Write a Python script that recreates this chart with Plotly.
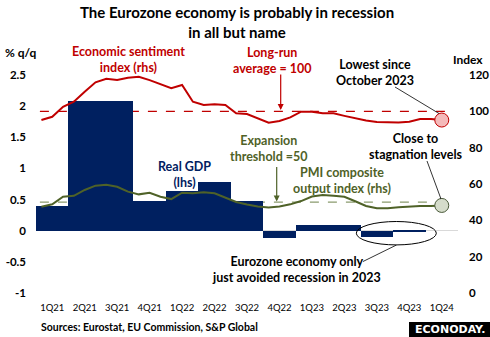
import numpy as np
import plotly.graph_objects as go

# ---------------- data ----------------
quarters = ["1Q21", "2Q21", "3Q21", "4Q21", "1Q22", "2Q22", "3Q22", "4Q22",
            "1Q23", "2Q23", "3Q23", "4Q23", "1Q24"]
gdp = [0.39, 2.08, 2.08, 0.48, 0.64, 0.79, 0.48, -0.11, 0.09, 0.09, -0.10, -0.02]

# monthly, Jan 2021 .. Feb 2024
esi = [95.2, 97.0, 102.5, 105.3, 110.8, 116.0, 117.9, 117.2, 118.5, 119.0, 117.2, 115.0,
       112.7, 114.5, 105.3, 103.5, 103.9, 103.5, 98.9, 98.5, 96.1, 93.7, 94.7, 96.7,
       99.8, 99.8, 98.9, 98.9, 97.5, 96.2, 94.9, 94.1, 93.9, 93.9, 94.3, 95.8,
       95.8, 95.2]
pmi = [47.5, 48.8, 53.0, 53.5, 56.7, 59.1, 59.6, 58.5, 55.8, 54.3, 55.2, 53.0,
       51.7, 55.2, 54.9, 55.4, 54.9, 52.6, 50.1, 48.7, 47.6, 47.1, 47.6, 48.8,
       50.6, 53.1, 53.9, 53.5, 53.0, 50.5, 47.9, 46.6, 46.6, 47.2, 47.6, 47.9,
       47.9, 48.2]

left_ticks = [-1, -0.5, 0, 0.5, 1, 1.5, 2, 2.5]
left_ticktext = ["-1", "-0.5", "0", "0.5", "1", "1.5", "2", "2.5"]
right_ticks = [0, 20, 40, 60, 80, 100, 120]

esi_avg = 100
pmi_threshold = 50

# ---------------- styling ----------------
RED = "#C00000"
GREEN = "#4F6228"
GREEN_LIGHT = "#8A9B6E"
NAVY = "#002060"
FONT = "Lato"

W, H = 490, 337
L, R, T, B = 36, 458, 75, 293


def px(x):
    return (x - L) / (R - L)


def py(y):
    return (B - y) / (B - T)


qx = np.arange(len(quarters))
mx = (np.arange(len(esi)) - 1) / 3.0  # month positions within quarter slots

fig = go.Figure()
fig.add_trace(go.Bar(x=qx[:len(gdp)], y=gdp, width=1.0, marker=dict(color=NAVY, line=dict(width=0)),
                     yaxis="y", hoverinfo="skip"))
fig.add_trace(go.Scatter(x=mx, y=esi, mode="lines", line=dict(color=RED, width=2),
                         yaxis="y2", hoverinfo="skip"))
fig.add_trace(go.Scatter(x=mx, y=pmi, mode="lines", line=dict(color=GREEN, width=2),
                         yaxis="y2", hoverinfo="skip"))

shapes = [
    dict(type="line", xref="x", yref="y2", x0=-0.38, x1=12.25, y0=esi_avg, y1=esi_avg,
         line=dict(color=RED, width=1.2, dash="dash"), layer="below"),
    dict(type="line", xref="x", yref="y2", x0=-0.38, x1=12.35, y0=pmi_threshold, y1=pmi_threshold,
         line=dict(color=GREEN_LIGHT, width=1.2, dash="dash"), layer="below"),
    # highlight circles
    dict(type="circle", xref="x", yref="y2", xsizemode="pixel", ysizemode="pixel",
         xanchor=mx[-1], yanchor=esi[-1], x0=-7, x1=7, y0=-7, y1=7,
         fillcolor="#F4BABA", line=dict(color=RED, width=1), layer="above"),
    dict(type="circle", xref="x", yref="y2", xsizemode="pixel", ysizemode="pixel",
         xanchor=mx[-1], yanchor=pmi[-1], x0=-7, x1=7, y0=-7, y1=7,
         fillcolor="#D5DCCB", line=dict(color="#4A5A3A", width=1), layer="above"),
    # ellipse around 2023 GDP
    dict(type="circle", xref="x", yref="y", xsizemode="pixel", ysizemode="pixel",
         xanchor=10.6, yanchor=-0.04, x0=-40, x1=40, y0=-11.7, y1=11.7,
         line=dict(color="#000000", width=1), layer="above"),
    # leader lines
    dict(type="line", xref="paper", yref="paper", x0=px(395), y0=py(87), x1=px(439), y1=py(113.5),
         line=dict(color="#000000", width=0.8)),
    dict(type="line", xref="paper", yref="paper", x0=px(427), y0=py(161), x1=px(441), y1=py(199),
         line=dict(color="#000000", width=0.8)),
    dict(type="line", xref="paper", yref="paper", x0=px(363), y0=py(261.5), x1=px(396.5), y1=py(245),
         line=dict(color="#000000", width=0.8)),
    # logo box
    dict(type="rect", xref="paper", yref="paper", x0=px(409), x1=px(490), y0=py(322), y1=py(337),
         fillcolor="#000000", line=dict(width=0)),
]


def ann(text, x, y, color="#000000", size=12.5, xanchor="center", bold=True, family=FONT):
    return dict(text=text, x=px(x), y=py(y), xref="paper", yref="paper", showarrow=False,
                xanchor=xanchor, yanchor="middle", align="center",
                font=dict(family=family, size=size, color=color,
                          weight="bold" if bold else "normal"))


annotations = [
    ann("The Eurozone economy is probably in recession<br>in all but name", 237, 22.5, size=15),
    ann("% q/q", 3, 52, xanchor="left", size=12),
    ann("Index", 468, 59, size=12),
    ann("Economic sentiment<br>index (rhs)", 128, 59.5, color=RED),
    ann("Long-run<br>average = 100", 272, 61, color=RED),
    ann("Lowest since<br>October 2023", 375, 72),
    ann("Close to<br>stagnation levels", 416, 146),
    ann("Expansion<br>threshold =50", 269, 148, color=GREEN),
    ann("PMI composite<br>output index (rhs)", 342, 180, color=GREEN),
    ann("Real GDP<br>(lhs)", 184, 174.5, color=NAVY),
    ann("Eurozone economy only<br>just avoided recession in 2023", 296, 269),
    ann("Sources: Eurostat, EU Commission, S&P Global", 39, 327, xanchor="left", size=10.5),
    ann("ECONODAY.", 449.5, 329.5, color="#FFFFFF", size=11, family="DejaVu Sans"),
    # arrows
    dict(text="", x=px(280.7), y=py(110), xref="paper", yref="paper", showarrow=True,
         ax=0, ay=-37, arrowhead=2, arrowsize=1, arrowwidth=1.2, arrowcolor=RED),
    dict(text="", x=px(276.7), y=py(201.5), xref="paper", yref="paper", showarrow=True,
         ax=0, ay=-36, arrowhead=2, arrowsize=1, arrowwidth=1.2, arrowcolor=GREEN),
]

fig.update_layout(
    width=W, height=H,
    margin=dict(l=L, r=W - R, t=T, b=H - B, pad=0),
    paper_bgcolor="#FFFFFF", plot_bgcolor="#FFFFFF",
    showlegend=False, hovermode=False, bargap=0,
    font=dict(family=FONT, color="#000000"),
    xaxis=dict(range=[-0.5, 12.5], tickvals=qx, ticktext=quarters, showgrid=False,
               zeroline=False, showline=False, ticks="", ticklabelstandoff=7, automargin=False,
               tickfont=dict(family=FONT, size=9.5, color="#000000")),
    yaxis=dict(range=[-1, 2.5], tickvals=left_ticks, ticktext=left_ticktext, showgrid=False,
               zeroline=True, zerolinecolor="#D9D9D9", zerolinewidth=1, showline=False,
               ticks="", ticklabelstandoff=9, automargin=False,
               tickfont=dict(family=FONT, size=11.5, color="#000000", weight="bold")),
    yaxis2=dict(range=[0, 120], tickvals=right_ticks, overlaying="y", side="right",
                showgrid=False, zeroline=False, showline=False, ticks="", ticklabelstandoff=10,
                automargin=False,
                tickfont=dict(family=FONT, size=11.5, color="#000000", weight="bold")),
    shapes=shapes,
    annotations=annotations,
)

fig.write_html("out.html")
